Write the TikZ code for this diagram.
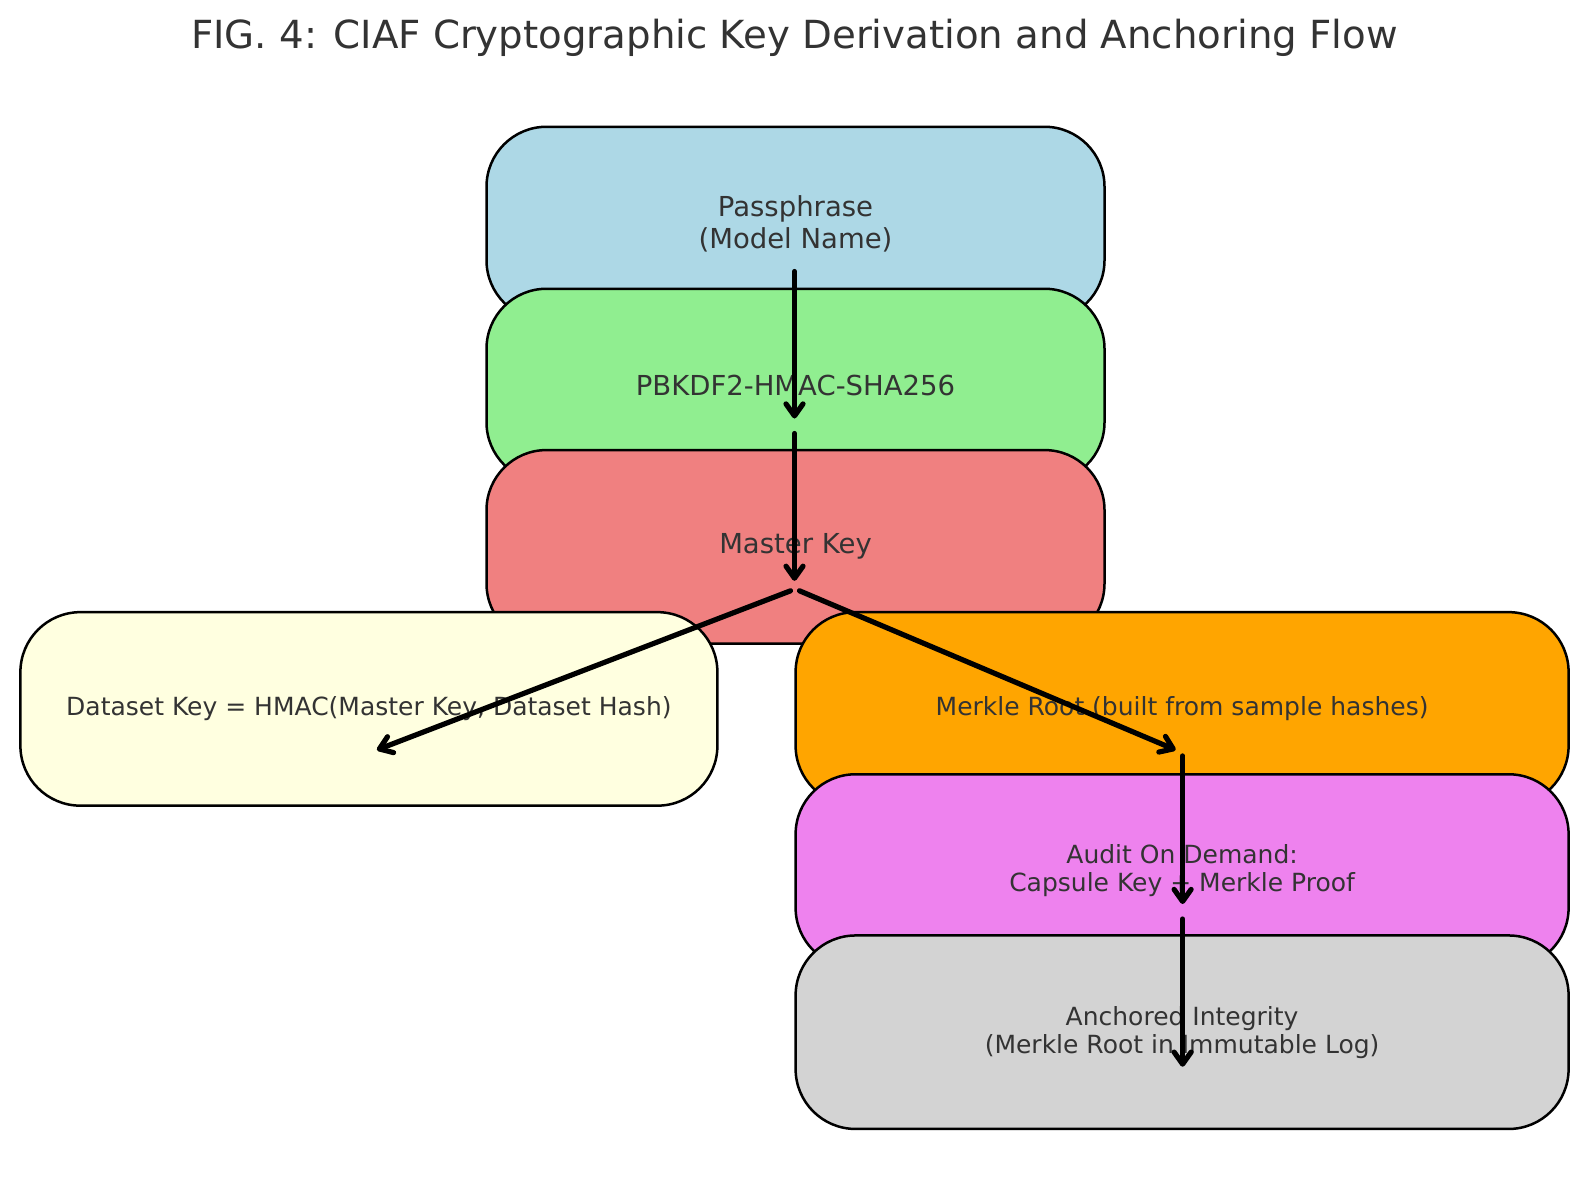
\documentclass[tikz,border=0pt]{standalone}
\usepackage{fontspec}
\setmainfont{DejaVu Sans}
\usetikzlibrary{arrows.meta,calc}
\definecolor{txt}{HTML}{333333}
\definecolor{cblue}{HTML}{ADD8E6}
\definecolor{cgreen}{HTML}{90EE90}
\definecolor{cred}{HTML}{F08080}
\definecolor{cyellow}{HTML}{FFFFE0}
\definecolor{corange}{HTML}{FFA500}
\definecolor{cviolet}{HTML}{EE82EE}
\definecolor{cgray}{HTML}{D3D3D3}
\tikzset{
  box/.style={draw=black, line width=2.5pt, rounded corners=60pt, align=center,
    text=txt, inner sep=0pt},
  topbox/.style={box, minimum width=618pt, minimum height=193.5pt,
    font=\fontsize{27.5}{32}\selectfont},
  lowbox/.style={box, minimum width=773pt, minimum height=193.5pt,
    font=\fontsize{25}{28}\selectfont},
  flow/.style={draw=black, line width=5.2pt, line cap=round,
    -{Straight Barb[length=12pt,width=17pt,line cap=round,line join=round]}},
}
\begin{document}
\begin{tikzpicture}[x=1pt,y=-1pt]
\fill[white] (0,0) rectangle (1589,1203);
\useasboundingbox (0,0) rectangle (1589,1203);
\node[text=txt, font=\fontsize{38.7}{42}\selectfont] (title) at (794.5,37.5) {FIG. 4: CIAF Cryptographic Key Derivation and Anchoring Flow};
\node[topbox, fill=cblue] (pass) at (795.5,223.5) {Passphrase\\(Model Name)};
\node[topbox, fill=cgreen] (kdf) at (795.5,385.5) {PBKDF2-HMAC-SHA256};
\node[topbox, fill=cred] (master) at (795.5,546.8) {Master Key};
\node[lowbox, fill=cyellow, minimum width=697pt] (dataset) at (368.9,708.9) {Dataset Key = HMAC(Master Key, Dataset Hash)};
\node[lowbox, fill=corange] (merkle) at (1182.1,708.9) {Merkle Root (built from sample hashes)};
\node[lowbox, fill=cviolet] (audit) at (1182.1,871) {Audit On Demand:\\Capsule Key + Merkle Proof};
\node[lowbox, fill=cgray] (anchor) at (1182.1,1032.2) {Anchored Integrity\\(Merkle Root in Immutable Log)};
\draw[flow] ($(pass.center)+(-1,48)$) -- ($(kdf.center)+(-1,33)$);
\draw[flow] ($(kdf.center)+(-1,48)$) -- ($(master.center)+(-1,34)$);
\draw[flow] ($(master.center)+(-5,44)$) -- ($(dataset.center)+(8,41)$);
\draw[flow] ($(master.center)+(4,44)$) -- ($(merkle.center)+(-6.5,41)$);
\draw[flow] ($(merkle.center)+(0.5,47)$) -- ($(audit.center)+(0.5,33)$);
\draw[flow] ($(audit.center)+(0.5,48)$) -- ($(anchor.center)+(0.5,34.5)$);
\end{tikzpicture}
\end{document}
